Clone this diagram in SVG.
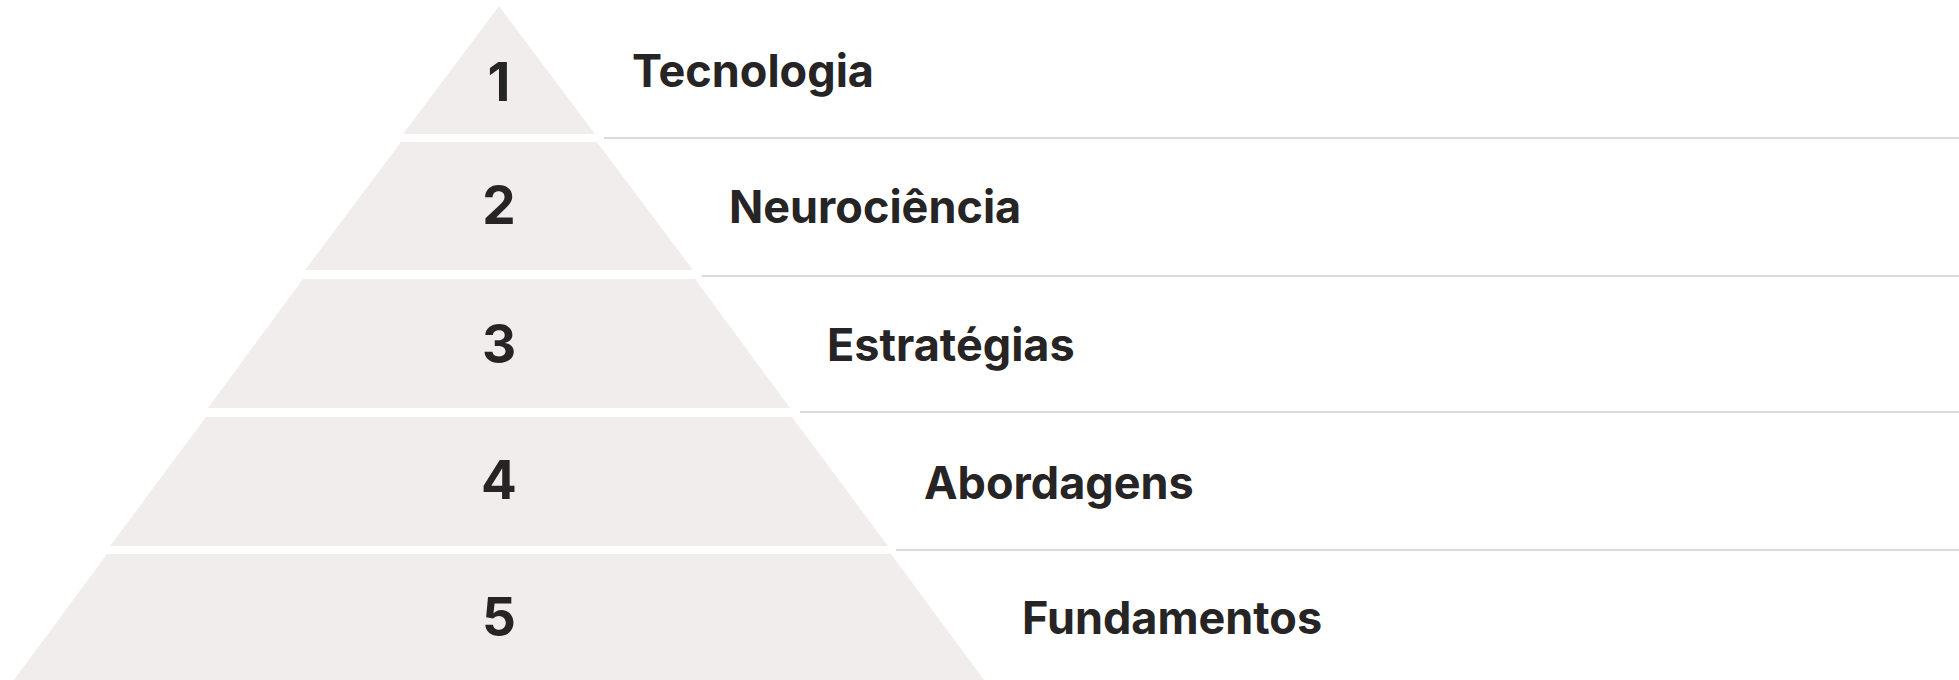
<svg xmlns="http://www.w3.org/2000/svg" width="1959" height="680" viewBox="0 0 1959 680">
  <style>
    .tier { fill: #F0EDEC; }
    .num { font-family: Inter, "Liberation Sans", sans-serif; font-weight: 700; font-size: 53px; fill: #262424; text-anchor: middle; }
    .label { font-family: Inter, "Liberation Sans", sans-serif; font-weight: 700; font-size: 45px; fill: #262424; }
    .sep { stroke: #DCDADA; stroke-width: 2; fill: none; }
  </style>
  <rect width="1959" height="680" fill="#FFFFFF"/>
  <g id="connectors">
    <line class="sep" x1="604" y1="138" x2="1959" y2="138"/>
    <line class="sep" x1="702" y1="276" x2="1959" y2="276"/>
    <line class="sep" x1="800" y1="412" x2="1959" y2="412"/>
    <line class="sep" x1="896" y1="550" x2="1959" y2="550"/>
  </g>
  <g id="tier1">
    <polygon class="tier" points="499,6 595,134 403,134"/>
    <text class="num" x="499" y="101">1</text>
    <text class="label" x="632" y="87">Tecnologia</text>
  </g>
  <g id="tier2">
    <polygon class="tier" points="401,142 597,142 693,270 305,270"/>
    <text class="num" x="499" y="224">2</text>
    <text class="label" x="729" y="223">Neurociência</text>
  </g>
  <g id="tier3">
    <polygon class="tier" points="303,279 695,279 790,408 208,408"/>
    <text class="num" x="499" y="363">3</text>
    <text class="label" x="827" y="361">Estratégias</text>
  </g>
  <g id="tier4">
    <polygon class="tier" points="206,417 792,417 888,546 110,546"/>
    <text class="num" x="499" y="499">4</text>
    <text class="label" x="924" y="499">Abordagens</text>
  </g>
  <g id="tier5">
    <polygon class="tier" points="107,554 891,554 984,680 14,680"/>
    <text class="num" x="499" y="636">5</text>
    <text class="label" x="1022" y="634">Fundamentos</text>
  </g>
</svg>
